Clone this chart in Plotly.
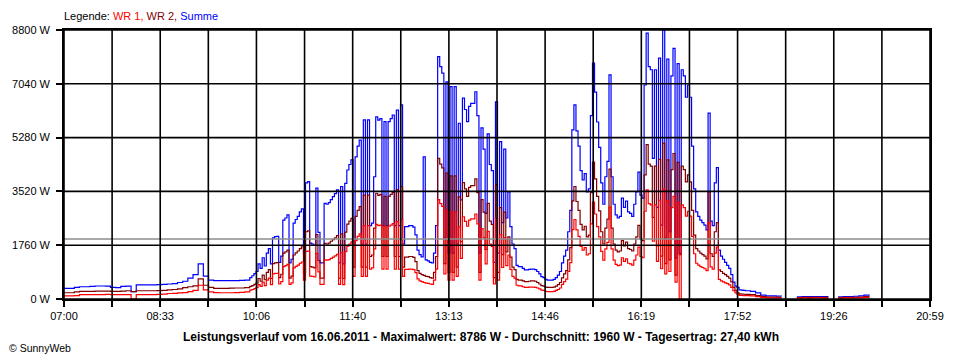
import plotly.graph_objects as go

# ---------------- data ----------------
# Sampling segments: start time and step (minutes) of each block of values
SEGMENT_START = ["07:00", "10:00", "18:00"]
SEGMENT_STEP_MIN = [5, 2, 5]

# Segment A: 07:00 - 09:55 (5 min)
SUMME_A = [350, 350, 380, 400, 400, 410, 425, 425, 420, 380, 370, 410, 420, 240, 460, 460, 460, 460,
           470, 480, 490, 500, 540, 580, 680, 800, 1150, 750, 620, 600, 600, 600, 600, 600, 610, 620]
WR2_A = [205, 205, 230, 250, 250, 250, 260, 260, 260, 250, 250, 260, 270, 240, 270, 270, 270, 270,
         275, 280, 300, 310, 330, 370, 400, 430, 660, 450, 380, 350, 350, 350, 355, 360, 360, 370]
WR1_A = [100, 100, 110, 140, 140, 140, 140, 140, 150, 140, 140, 140, 140, 0, 140, 140, 140, 145,
         150, 160, 180, 185, 200, 210, 240, 280, 450, 300, 230, 210, 205, 205, 205, 210, 215, 230]

# Segment B: 10:00 - 17:58 (2 min)
SUMME_B = [
    700, 760, 830, 900, 1150, 1000, 1350, 1080, 1500, 1650,
    1150, 2000, 2040, 2050, 1200, 1400, 2580, 2650, 2750, 1180,
    1300, 2480, 2600, 2700, 2850, 2950, 1500, 3800, 3840, 1830,
    1800, 1750, 3630, 2180, 1180, 1180, 3130, 3100, 3150, 3250,
    3350, 3450, 3570, 1180, 3680, 1150, 3780, 4220, 4400, 4550,
    1800, 4650, 5000, 5200, 1800, 5860, 1800, 5860, 2400, 2480,
    4000, 5960, 5850, 5900, 2400, 5800, 2400, 5800, 5900, 6020,
    2400, 6180, 2400, 6350, 1800, 2370, 2370, 2400, 2400, 2350,
    2100, 1600, 1450, 1380, 4650, 1280, 1250, 1200, 1180, 1500,
    2400, 7930, 7600, 7390, 2000, 7100, 1500, 6950, 1500, 6950,
    1800, 5750, 3240, 6570, 6200, 5800, 6300, 6400, 6400, 6780,
    6000, 1500, 5600, 4900, 2800, 5400, 4400, 4200, 1200, 6450,
    1500, 5150, 2500, 4900, 2650, 3500, 2370, 1800, 1650, 1100,
    1060, 1060, 1000, 950, 950, 970, 980, 980, 960, 900,
    820, 730, 700, 640, 620, 620, 620, 640, 700, 780,
    900, 1180, 1400, 1600, 2200, 2900, 5530, 6350, 5500, 5000,
    4200, 3900, 4100, 3500, 3600, 6000, 7720, 6770, 5790, 4960,
    3800, 3100, 4000, 4500, 7330, 4000, 3100, 2750, 2650, 2700,
    3300, 3000, 3200, 2850, 2800, 2700, 3100, 3500, 4150, 3400,
    3300, 7000, 8700, 7600, 7500, 4600, 7500, 3000, 7880, 2420,
    8790, 2000, 7850, 2200, 7300, 8200, 1340, 7700, 1500, 7500,
    7300, 6600, 7000, 6600, 5000, 3600, 2850, 2700, 2580, 2500,
    2420, 2260, 6080, 2550, 2400, 3800, 4300, 1600, 1400, 1300,
    1200, 1100, 1000, 800, 550, 420, 380, 300, 290, 280,
]
WR2_B = [
    410, 440, 480, 520, 670, 580, 780, 630, 870, 960,
    670, 1160, 1180, 1190, 700, 810, 1500, 1540, 1600, 680,
    750, 1440, 1510, 1570, 1650, 1710, 870, 2200, 2230, 1060,
    1040, 1020, 2110, 1260, 680, 680, 1820, 1800, 1830, 1890,
    1940, 2000, 2070, 680, 2130, 670, 2190, 2450, 2550, 2640,
    1040, 2700, 2900, 3020, 1040, 3400, 1040, 3400, 1390, 1440,
    2320, 3460, 3390, 3420, 1390, 3360, 1390, 3360, 3420, 3490,
    1390, 3580, 1390, 3680, 1040, 1370, 1370, 1390, 1390, 1360,
    1220, 930, 840, 800, 770, 740, 730, 700, 680, 870,
    1390, 4600, 4410, 4290, 1160, 4120, 870, 4030, 870, 4030,
    1040, 3340, 1880, 3810, 3600, 3360, 3650, 3710, 3710, 3930,
    3480, 870, 3250, 2840, 1620, 3130, 2550, 2440, 700, 3740,
    870, 2990, 1450, 2840, 1540, 2030, 1370, 1040, 960, 640,
    620, 620, 590, 570, 570, 580, 590, 590, 580, 540,
    490, 440, 420, 390, 380, 380, 380, 390, 420, 470,
    540, 690, 820, 930, 1280, 1680, 3210, 3680, 3190, 2900,
    2440, 2260, 2380, 2030, 2090, 3480, 4480, 3930, 3360, 2880,
    2200, 1800, 2320, 2610, 4250, 2320, 1800, 1600, 1540, 1570,
    1910, 1740, 1860, 1650, 1620, 1570, 1800, 2030, 2410, 1970,
    1910, 4060, 5050, 4410, 4350, 2670, 4350, 1740, 4570, 1400,
    5100, 1160, 4550, 1280, 4230, 4760, 780, 4470, 1450, 4350,
    4230, 3830, 4060, 3830, 2900, 2090, 1650, 1570, 1500, 1450,
    1400, 1310, 3500, 1480, 1390, 2200, 2500, 950, 900, 840,
    800, 740, 680, 560, 380, 280, 200, 170, 160, 155,
]
WR1_B = [
    290, 310, 340, 370, 470, 410, 550, 440, 620, 680,
    470, 820, 840, 840, 490, 570, 1060, 1090, 1130, 480,
    530, 1020, 1070, 1110, 1170, 1210, 620, 1560, 1570, 750,
    740, 720, 1490, 890, 480, 480, 1280, 1270, 1290, 1330,
    1370, 1410, 1460, 480, 1510, 470, 1550, 1730, 1800, 1870,
    740, 1910, 2050, 2130, 740, 2400, 740, 2400, 980, 1020,
    1640, 2440, 2400, 2420, 980, 2380, 980, 2380, 2420, 2470,
    980, 2530, 980, 2600, 740, 970, 970, 980, 980, 960,
    860, 660, 590, 570, 540, 520, 510, 490, 480, 620,
    980, 3250, 3120, 3030, 820, 2910, 620, 2850, 620, 2850,
    740, 2360, 1330, 2690, 2540, 2380, 2580, 2620, 2620, 2780,
    2460, 620, 2300, 2010, 1150, 2210, 1800, 1720, 490, 2640,
    620, 2110, 1030, 2010, 1090, 1440, 970, 740, 680, 450,
    430, 430, 400, 380, 380, 390, 390, 390, 380, 360,
    330, 290, 280, 250, 240, 240, 240, 250, 280, 310,
    360, 480, 570, 650, 900, 1190, 2270, 2600, 2260, 2050,
    1720, 1600, 1680, 1440, 1480, 2460, 3170, 2780, 2370, 2030,
    1560, 1270, 1640, 1850, 3010, 1640, 1270, 1130, 1090, 1110,
    1350, 1230, 1310, 1170, 1150, 1110, 1270, 1440, 1700, 1390,
    1350, 2870, 3570, 3120, 3080, 1890, 3080, 1230, 3230, 990,
    3600, 820, 3220, 900, 2990, 3360, 550, 3160, 0, 3080,
    2990, 2710, 2870, 2710, 2050, 1480, 1170, 1110, 1060, 1030,
    990, 930, 2500, 1050, 980, 1500, 1700, 640, 590, 560,
    530, 500, 460, 380, 270, 200, 150, 120, 115, 110,
]

# Segment C: 18:00 - 20:55 (5 min), None = inverter off
SUMME_C = [270, 250, 200, 130, 100, 100, 95, 90, None, None, 70, 80, 75, 80, 80, 75, 60, None,
           70, 80, 80, 90, 100, 130, 150, None, None, None, None, None, None, None, None, None, None, None]
WR2_C = [150, 140, 110, 75, 60, 60, 55, 55, None, None, 45, 50, 50, 50, 50, 50, 40, None,
         45, 50, 50, 55, 60, 80, 90, None, None, None, None, None, None, None, None, None, None, None]
WR1_C = [110, 100, 80, 55, 40, 40, 40, 35, None, None, 30, 35, 30, 35, 35, 30, 25, None,
         30, 35, 35, 40, 40, 55, 60, None, None, None, None, None, None, None, None, None, None, None]

AVERAGE_W = 1960
Y_TICKS = [0, 1760, 3520, 5280, 7040, 8800]
Y_TICK_LABELS = ["0 W", "1760 W", "3520 W", "5280 W", "7040 W", "8800 W"]
X_TICK_LABELS = ["07:00", "08:33", "10:06", "11:40", "13:13", "14:46", "16:19", "17:52", "19:26", "20:59"]
DAY_START = "07:00"
DAY_END = "20:59"
TITLE = ("Leistungsverlauf vom 16.06.2011 - Maximalwert: 8786 W - "
         "Durchschnitt: 1960 W - Tagesertrag: 27,40 kWh")
COLORS = {"WR 1": "#ff0000", "WR 2": "#800000", "Summe": "#0000ff"}

# ---------------- build ----------------
def minutes(hhmm):
    h, m = hhmm.split(":")
    return int(h) * 60 + int(m) - (int(DAY_START[:2]) * 60 + int(DAY_START[3:]))

blocks = {
    "Summe": [SUMME_A, SUMME_B, SUMME_C],
    "WR 2": [WR2_A, WR2_B, WR2_C],
    "WR 1": [WR1_A, WR1_B, WR1_C],
}

def build(name):
    xs, ys = [], []
    for start, step, vals in zip(SEGMENT_START, SEGMENT_STEP_MIN, blocks[name]):
        t0 = minutes(start)
        for i, v in enumerate(vals):
            xs.append(t0 + i * step)
            ys.append(v)
    return xs, ys

x_end = minutes(DAY_END)
n_lab = len(X_TICK_LABELS)
tick_pos = [k * x_end / (2 * (n_lab - 1)) for k in range(2 * (n_lab - 1) + 1)]
tick_txt = [X_TICK_LABELS[k // 2] if k % 2 == 0 else "" for k in range(len(tick_pos))]

FONT = "Liberation Sans, Arial, sans-serif"

fig = go.Figure()
for name in ["Summe", "WR 2", "WR 1"]:
    xs, ys = build(name)
    fig.add_trace(go.Scatter(x=xs, y=ys, mode="lines", name=name,
                             line=dict(color=COLORS[name], width=1.2, shape="hv"),
                             showlegend=False))

fig.add_trace(go.Scatter(x=[0, x_end], y=[AVERAGE_W, AVERAGE_W], mode="lines",
                         line=dict(color="#8c8c8c", width=1.5), showlegend=False))

shapes = []
for tp in tick_pos:
    shapes.append(dict(type="line", xref="x", yref="paper", x0=tp, x1=tp, y0=0, y1=1,
                       line=dict(color="black", width=1.6), layer="above"))
for yv in Y_TICKS:
    shapes.append(dict(type="line", xref="paper", yref="y", x0=0, x1=1, y0=yv, y1=yv,
                       line=dict(color="black", width=1.6), layer="above"))

legend_txt = ('Legende: <span style="color:#ff0000">WR 1,</span> '
              '<span style="color:#800000">WR 2,</span> '
              '<span style="color:#0000ff">Summe</span>')

fig.update_layout(
    width=960, height=360,
    margin=dict(l=61, r=30, t=30, b=61, pad=0),
    paper_bgcolor="white", plot_bgcolor="white",
    font=dict(family=FONT, size=11, color="black"),
    shapes=shapes,
    annotations=[
        dict(text=legend_txt, xref="paper", yref="paper", x=-0.002, y=1.052,
             xanchor="left", yanchor="middle", showarrow=False, font=dict(size=11)),
        dict(text="<b>" + TITLE + "</b>", xref="paper", yref="paper", x=0.4816, y=-0.141,
             xanchor="center", yanchor="middle", showarrow=False, font=dict(size=12)),
        dict(text="© SunnyWeb", xref="paper", yref="paper", x=-0.066, y=-0.182,
             xanchor="left", yanchor="middle", showarrow=False, font=dict(size=10.5)),
    ],
    xaxis=dict(range=[0, x_end], tickmode="array", tickvals=tick_pos, ticktext=tick_txt,
               showgrid=False, zeroline=False, showline=True, linecolor="black", linewidth=1.6,
               mirror=True, ticks="outside", ticklen=6, tickwidth=1.5, tickcolor="black",
               layer="above traces", tickfont=dict(size=11)),
    yaxis=dict(range=[0, 8800], tickmode="array", tickvals=Y_TICKS, ticktext=Y_TICK_LABELS,
               showgrid=False, zeroline=False, showline=True, linecolor="black", linewidth=1.6,
               mirror=True, ticks="outside", ticklen=6, tickwidth=1.5, tickcolor="black",
               ticklabelstandoff=4, layer="above traces", tickfont=dict(size=11)),
)

# remove the default page margin so the 960x360 figure fills the window exactly
fig.write_html("out.html", config={"displayModeBar": False},
               post_script="document.body.style.margin='0px';")
